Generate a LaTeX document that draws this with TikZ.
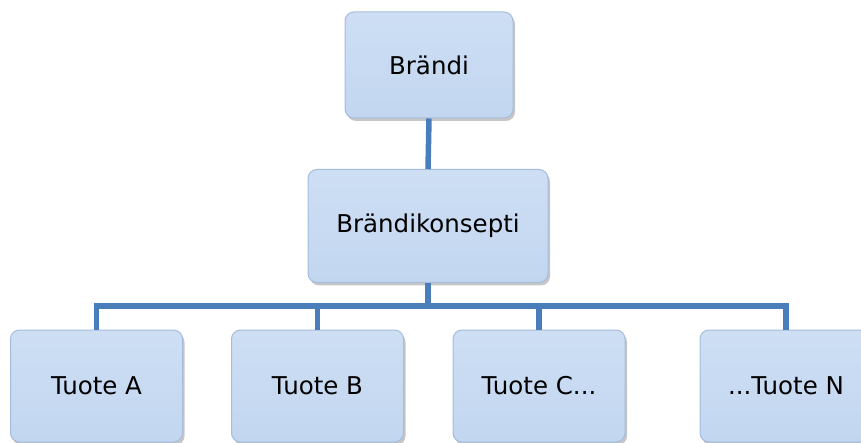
\documentclass[tikz,border=0pt]{standalone}
\usepackage{fontspec}
\setmainfont{DejaVu Sans}
\usetikzlibrary{shadows}
\definecolor{boxfill}{RGB}{194,214,240}
\definecolor{boxtop}{RGB}{206,223,244}
\definecolor{boxedge}{RGB}{165,188,220}
\definecolor{linkblue}{RGB}{74,126,187}
\newcommand{\tdots}{...}
\tikzset{
  unit/.style={rounded corners=9pt,top color=boxtop,bottom color=boxfill,draw=boxedge,line width=1pt,
    drop shadow={shadow xshift=2pt,shadow yshift=-3pt,opacity=0.45},
    font=\fontsize{24.5}{28}\selectfont,inner sep=0pt},
  link/.style={draw=linkblue,line width=5.5pt}
}
\begin{document}
\begin{tikzpicture}[x=1pt,y=-1pt]
    \useasboundingbox (0,0) rectangle (861,443);
    \node[unit,minimum width=168pt,minimum height=106pt] (brand) at (429,65) {Brändi};
    \node[unit,minimum width=240pt,minimum height=113pt] (concept) at (428,226) {Brändikonsepti};
    \coordinate (bus) at (428,306);
    \foreach \name/\x/\txt in {a/96.5/Tuote A,b/317.5/Tuote B,c/539/Tuote C\tdots,n/786/\tdots Tuote N} {
      \node[unit,minimum width=172pt,minimum height=112pt] (\name) at (\x,386) {\txt};
    }
    \draw[link] (brand.south) -- (concept.north);
    \draw[link] (concept.south) -- (bus);
    \draw[link] (a.north) |- (bus) -| (n.north);
    \draw[link] (b.north) -- (b.north |- bus);
    \draw[link] (c.north) -- (c.north |- bus);
\end{tikzpicture}
\end{document}
